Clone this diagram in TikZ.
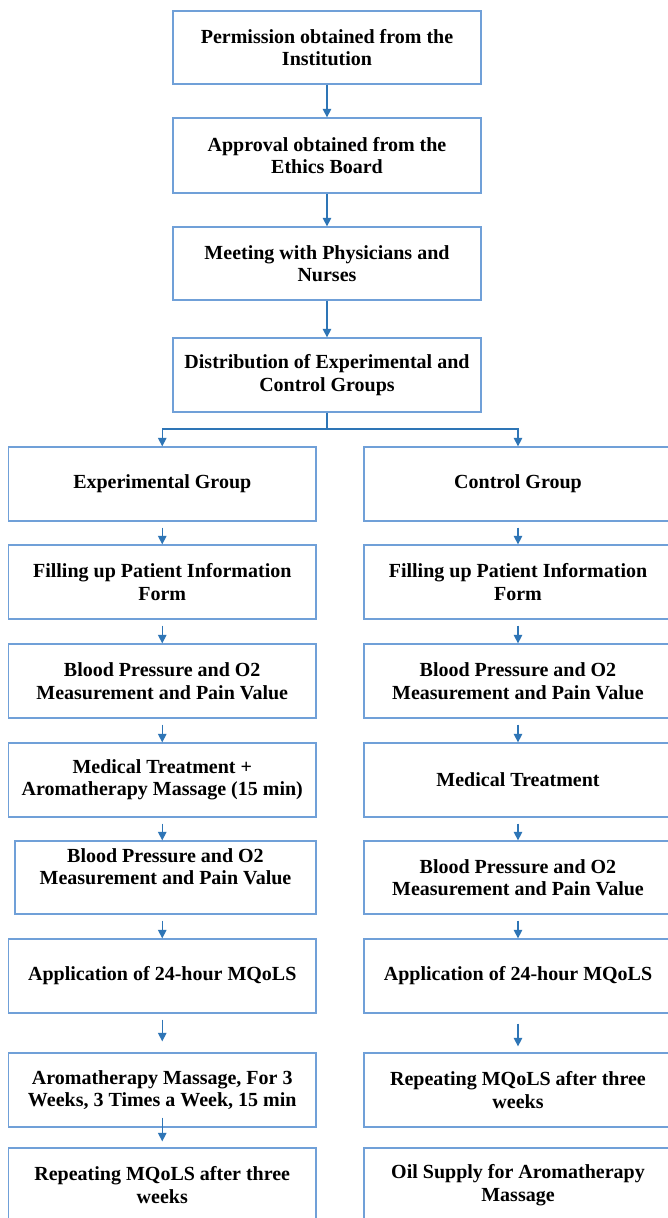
\documentclass[tikz,border=0pt]{standalone}
\usepackage{fontspec}
\setmainfont{Liberation Serif}
\usetikzlibrary{arrows.meta}
\definecolor{boxblue}{RGB}{112,160,216}
\definecolor{arrblue}{RGB}{46,117,182}
\begin{document}
\begin{tikzpicture}[x=1pt,y=-1pt,
  box/.style={draw=boxblue, line width=1.3pt, align=center, inner sep=0pt,
    font=\bfseries\fontsize{20}{22.5}\selectfont},
  topbox/.style={box, minimum width=308pt},
  lbox/.style={box, minimum width=307.5pt, minimum height=74pt},
  rbox/.style={box, minimum width=308pt, minimum height=74pt},
  ln/.style={draw=arrblue, line width=1.3pt},
  arr/.style={ln, -{Triangle[length=8.5pt,width=8.5pt]}},
  carr/.style={arr, shorten <=6pt}]
\useasboundingbox (0,0) rectangle (667,1218);
\fill[white] (0,0) rectangle (667,1218);
% top chain
\node[topbox, minimum height=73pt] (p1) at (327,47.5) {Permission obtained from the\\Institution};
\node[topbox, minimum height=75pt] (p2) at (327,155.5) {Approval obtained from the\\Ethics Board};
\node[topbox, minimum height=73pt] (p3) at (327,263.5) {Meeting with Physicians and\\Nurses};
\node[topbox, minimum height=74pt] (p4) at (327,375) {Distribution of Experimental and\\Control Groups};
% left column
\node[lbox] (e1) at (162.25,484) {Experimental Group};
\node[lbox] (e2) at (162.25,582) {Filling up Patient Information\\Form};
\node[lbox] (e3) at (162.25,681) {Blood Pressure and O2\\Measurement and Pain Value};
\node[lbox] (e4) at (162.25,780) {Medical Treatment +\\Aromatherapy Massage (15 min)};
\node[box, minimum width=301pt, minimum height=73pt] (e5) at (165.5,877.5) {Blood Pressure and O2\\Measurement and Pain Value\\[-7pt]\strut};
\node[lbox] (e6) at (162.25,976) {Application of 24-hour MQoLS};
\node[lbox] (e7) at (162.25,1090) {Aromatherapy Massage, For 3\\Weeks, 3 Times a Week, 15 min};
\node[lbox] (e8) at (162.25,1185) {Repeating MQoLS after three\\weeks};
% right column
\node[rbox] (c1) at (518,484) {Control Group};
\node[rbox] (c2) at (518,582) {Filling up Patient Information\\Form};
\node[rbox] (c3) at (518,681) {Blood Pressure and O2\\Measurement and Pain Value};
\node[rbox] (c4) at (518,780) {Medical Treatment};
\node[rbox, minimum height=73pt] (c5) at (518,877.5) {Blood Pressure and O2\\Measurement and Pain Value};
\node[rbox] (c6) at (518,976) {Application of 24-hour MQoLS};
\node[rbox] (c7) at (518,1090) {Repeating MQoLS after three\\weeks};
\node[rbox] (c8) at (518,1185) {Oil Supply for Aromatherapy\\Massage};
% top arrows
\draw[arr] (p1.south) -- (p2.north);
\draw[arr] (p2.south) -- (p3.north);
\draw[arr] (p3.south) -- (p4.north);
% split
\coordinate (sj) at (327,429);
\draw[ln] (p4.south) -- (sj);
\draw[arr] (sj) -| (e1.north);
\draw[arr] (sj) -| (c1.north);
% left arrows
\draw[carr] (e1.south) -- (e2.north);
\draw[carr] (e2.south) -- (e3.north);
\draw[carr] (e3.south) -- (e4.north);
\draw[carr] (e4.south) -- (e4.south |- e5.north);
\draw[carr] (e5.south -| e4.south) -- (e6.north);
\draw[carr, shorten >=11pt] (e6.south) -- (e7.north);
\draw[arr, shorten <=-10pt, shorten >=6pt] (e7.south) -- (e8.north);
% right arrows
\draw[carr] (c1.south) -- (c2.north);
\draw[carr] (c2.south) -- (c3.north);
\draw[carr] (c3.south) -- (c4.north);
\draw[carr] (c4.south) -- (c5.north);
\draw[carr] (c5.south) -- (c6.north);
\draw[carr, shorten <=10pt, shorten >=6pt] (c6.south) -- (c7.north);
\end{tikzpicture}
\end{document}
